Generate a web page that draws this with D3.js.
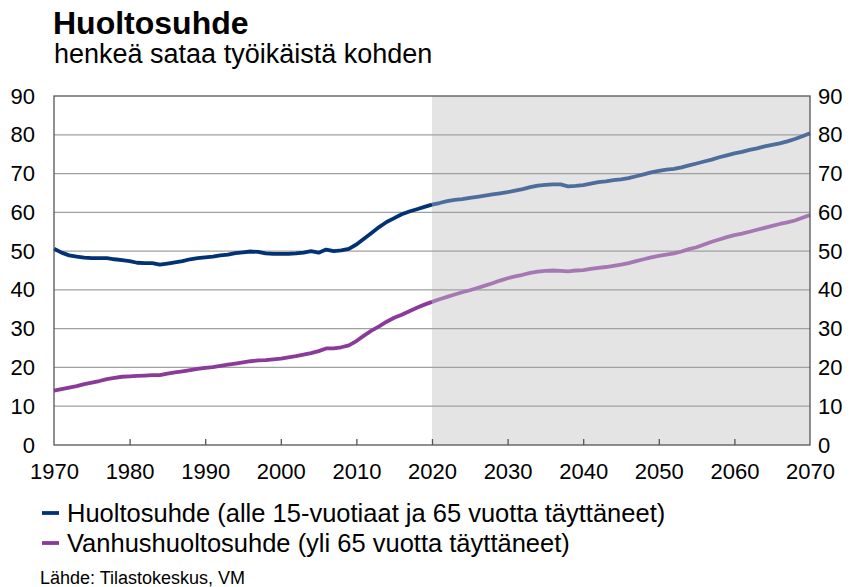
<!DOCTYPE html>
<meta charset="utf-8">
<head>
<style>
  body { margin: 0; background: #fff; }
  svg text { font-family: "Liberation Sans", Arial, sans-serif; fill: #000; }
</style>
</head>
<body>
<svg id="chart"></svg>
<script src="https://d3js.org/d3.v7.min.js"></script>
<script>

// vuodet 1970-2070
var years = d3.range(1970, 2071);

var huoltosuhde = [
  50.6, 49.6, 48.9, 48.6, 48.3, 48.2, 48.2, 48.2, 47.9, 47.7,
  47.4, 47.0, 46.9, 46.9, 46.5, 46.8, 47.1, 47.4, 47.9, 48.2,
  48.4, 48.6, 48.9, 49.1, 49.5, 49.7, 49.9, 49.8, 49.4, 49.3,
  49.3, 49.3, 49.4, 49.6, 50.0, 49.6, 50.4, 50.0, 50.2, 50.6,
  51.7, 53.2, 54.7, 56.2, 57.5, 58.5, 59.5, 60.2, 60.8, 61.4,
  62.0, 62.4, 62.9, 63.2, 63.4, 63.7, 64.0, 64.3, 64.6, 64.9,
  65.2, 65.6, 66.0, 66.5, 66.9, 67.1, 67.2, 67.2, 66.7, 66.8,
  67.0, 67.4, 67.8, 68.0, 68.3, 68.5, 68.8, 69.3, 69.8, 70.3,
  70.7, 71.0, 71.2, 71.6, 72.1, 72.6, 73.1, 73.6, 74.2, 74.7,
  75.2, 75.6, 76.1, 76.5, 77.0, 77.4, 77.8, 78.3, 78.9, 79.6,
  80.4
];

var vanhushuoltosuhde = [
  14.0, 14.4, 14.8, 15.2, 15.7, 16.1, 16.5, 17.0, 17.3, 17.6,
  17.7, 17.8, 17.9, 18.0, 18.0, 18.4, 18.7, 19.0, 19.3, 19.6,
  19.9, 20.1, 20.4, 20.7, 21.0, 21.3, 21.6, 21.8, 21.9, 22.1,
  22.3, 22.6, 22.9, 23.3, 23.7, 24.2, 24.9, 24.9, 25.2, 25.7,
  26.8, 28.2, 29.5, 30.6, 31.8, 32.8, 33.6, 34.5, 35.4, 36.2,
  36.9, 37.6, 38.2, 38.8, 39.4, 39.9, 40.5, 41.1, 41.7, 42.4,
  43.0, 43.5, 43.9, 44.4, 44.7, 44.9, 45.0, 44.9, 44.8, 45.0,
  45.1, 45.4, 45.7, 45.9, 46.2, 46.5, 46.9, 47.4, 47.9, 48.4,
  48.8, 49.1, 49.4, 49.9, 50.5, 51.0, 51.7, 52.4, 53.0, 53.6,
  54.1, 54.5, 55.0, 55.5, 56.0, 56.5, 57.0, 57.4, 57.9, 58.6,
  59.3
];

var ennusteAlku = 2020;
var xTicks = [1970, 1980, 1990, 2000, 2010, 2020, 2030, 2040, 2050, 2060, 2070];
var yTicks = [0, 10, 20, 30, 40, 50, 60, 70, 80, 90];

var sarjat = [
  {nimi: "Huoltosuhde (alle 15-vuotiaat ja 65 vuotta täyttäneet)", arvot: huoltosuhde, vari: "#003274", vari2: "#4d6d9b"},
  {nimi: "Vanhushuoltosuhde (yli 65 vuotta täyttäneet)", arvot: vanhushuoltosuhde, vari: "#8a3a98", vari2: "#a678b3"}
];

var margin = {top: 96, right: 46, bottom: 142, left: 54},
    width = 856 - margin.left - margin.right,
    height = 587 - margin.top - margin.bottom;

var svg = d3.select("#chart")
    .attr("width", 856)
    .attr("height", 587);

var g = svg.append("g")
    .attr("transform", "translate(" + margin.left + "," + margin.top + ")");

var x = d3.scaleLinear().domain([1970, 2070]).range([0, width]);
var y = d3.scaleLinear().domain([0, 90]).range([height, 0]);

// ennustealue
g.append("rect")
    .attr("x", x(ennusteAlku))
    .attr("y", 0)
    .attr("width", x(2070) - x(ennusteAlku))
    .attr("height", height)
    .style("fill", "#e4e4e4");

// vaakaviivat
g.selectAll(".grid")
    .data(yTicks.slice(1, -1))
  .enter().append("line")
    .attr("class", "grid")
    .attr("x1", 0).attr("x2", width)
    .attr("y1", function(d) { return y(d); })
    .attr("y2", function(d) { return y(d); })
    .style("stroke", "#a0a0a0")
    .style("stroke-width", 1.3);

// viivat
var line = d3.line()
    .x(function(d) { return x(d[0]); })
    .y(function(d) { return y(d[1]); });

sarjat.forEach(function(s) {
  var pts = years.map(function(yr, i) { return [yr, s.arvot[i]]; });
  var hist = pts.filter(function(p) { return p[0] <= ennusteAlku; });
  var enn = pts.filter(function(p) { return p[0] >= ennusteAlku; });
  g.append("path").datum(enn)
      .attr("d", line)
      .style("fill", "none").style("stroke", s.vari2)
      .style("stroke-width", 3.8).style("stroke-linejoin", "round");
  g.append("path").datum(hist)
      .attr("d", line)
      .style("fill", "none").style("stroke", s.vari)
      .style("stroke-width", 3.8).style("stroke-linejoin", "round");
});

// kehys
g.append("rect")
    .attr("width", width).attr("height", height)
    .style("fill", "none").style("stroke", "#555").style("stroke-width", 1.3);

// x-akseli
var xAxis = d3.axisBottom(x)
    .tickValues(xTicks)
    .tickFormat(d3.format("d"))
    .tickSizeInner(-6)
    .tickSizeOuter(0);

var xg = g.append("g")
    .attr("transform", "translate(0," + height + ")")
    .call(xAxis);
xg.select(".domain").remove();
xg.selectAll(".tick line").style("stroke", "#555").style("stroke-width", 1.3)
  .filter(function(d) { return d == 1970 || d == 2070; }).remove();
xg.selectAll(".tick text").style("font-size", "22px").attr("y", 34).attr("dy", 0);

// y-akselit
var yl = g.append("g").call(d3.axisLeft(y).tickValues(yTicks).tickSize(0).tickPadding(19));
var yr = g.append("g").attr("transform", "translate(" + width + ",0)")
    .call(d3.axisRight(y).tickValues(yTicks).tickSize(0).tickPadding(8));
[yl, yr].forEach(function(a) {
  a.select(".domain").remove();
  a.selectAll(".tick text").style("font-size", "22px");
});

// otsikot
svg.append("text").attr("x", 53).attr("y", 34)
    .text("Huoltosuhde")
    .style("font-size", "32px").style("font-weight", "bold");
svg.append("text").attr("x", 54).attr("y", 63)
    .text("henkeä sataa työikäistä kohden")
    .style("font-size", "27px");

// selite
sarjat.forEach(function(s, i) {
  var ly = 513 + i * 30;
  svg.append("line")
      .attr("x1", 42).attr("x2", 59).attr("y1", ly).attr("y2", ly)
      .style("stroke", s.vari).style("stroke-width", 3.8);
  svg.append("text").attr("x", 67).attr("y", ly)
      .attr("dominant-baseline", "central")
      .text(s.nimi)
      .style("font-size", "25.5px");
});

svg.append("text").attr("x", 40).attr("y", 584)
    .text("Lähde: Tilastokeskus, VM")
    .style("font-size", "18px");

</script>
</body>
